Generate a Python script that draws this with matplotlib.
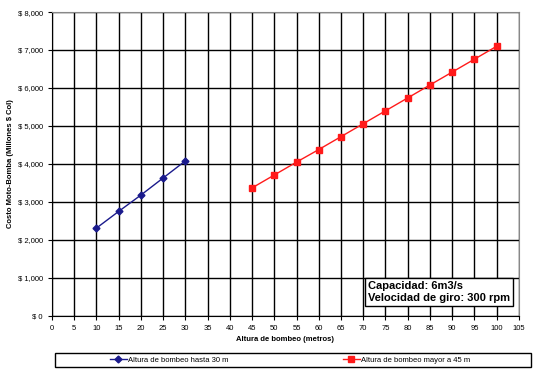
import numpy as np
import matplotlib.pyplot as plt
from matplotlib.ticker import FuncFormatter
from matplotlib.patches import Rectangle

# datos
altura_baja = [10, 15, 20, 25, 30]
costo_baja = [2310, 2750, 3180, 3630, 4080]
altura_alta = [45, 50, 55, 60, 65, 70, 75, 80, 85, 90, 95, 100]
costo_alta = [3370, 3710, 4050, 4380, 4720, 5060, 5400, 5740, 6080, 6420, 6760, 7100]

plt.rcParams['font.family'] = ['Liberation Sans', 'DejaVu Sans']

fig = plt.figure(figsize=(5.4, 3.77), dpi=100)
ax = fig.add_axes([0.096, 0.162, 0.865, 0.806])

l1, = ax.plot(altura_baja, costo_baja, color='#1a1a8c', marker='D', markersize=3.5,
              linewidth=1, label='Altura de bombeo hasta 30 m')
l2, = ax.plot(altura_alta, costo_alta, color='#ff1a1a', marker='s', markersize=4.5,
              linewidth=1, label='Altura de bombeo mayor a 45 m')

ax.set_xlim(0, 105)
ax.set_ylim(0, 8000)
ax.set_xticks(np.arange(0, 106, 5))
ax.set_yticks(np.arange(0, 8001, 1000))
ax.yaxis.set_major_formatter(FuncFormatter(lambda v, p: '$ {:,.0f}'.format(v)))
ax.grid(True, color='black', linewidth=1)
ax.set_axisbelow(True)
ax.tick_params(labelsize=5.5, length=3, width=0.8)
for s in ['top', 'right']:
    ax.spines[s].set_color('#888888')

ax.set_xlabel('Altura de bombeo (metros)', fontsize=5.5, fontweight='bold', labelpad=3)
ax.set_ylabel('Costo Moto-Bomba (Millones $ Col)', fontsize=5.5, fontweight='bold', labelpad=3)

ax.text(71.0, 330, 'Capacidad: 6m3/s\nVelocidad de giro: 300 rpm', fontsize=8,
        fontweight='bold', linespacing=1.3, va='bottom', ha='left',
        bbox=dict(boxstyle='square,pad=0.25', facecolor='white', edgecolor='black', linewidth=1))

# marco de la leyenda y dos entradas separadas
fig.patches.append(Rectangle((55 / 540, 1 - 367 / 377), 476 / 540, 14 / 377,
                             transform=fig.transFigure, facecolor='white',
                             edgecolor='black', linewidth=1))
for h, x0 in [(l1, 110 / 540), (l2, 343 / 540)]:
    leg = fig.legend(handles=[h], loc='center left', bbox_to_anchor=(x0, 1 - 360 / 377),
                     fontsize=5.5, frameon=False, borderpad=0, borderaxespad=0,
                     handlelength=2.2, handletextpad=0.2)
    leg.set_zorder(5)

fig.savefig('out.png', dpi=100)
